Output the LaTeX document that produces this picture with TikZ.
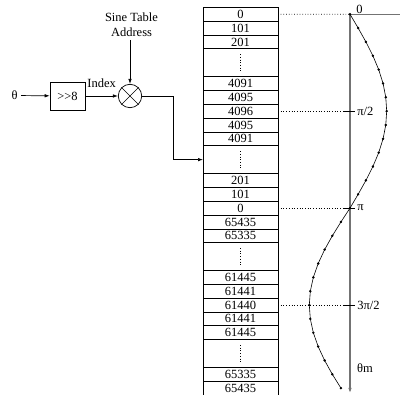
\documentclass[tikz,border=0pt]{standalone}
\usepackage{fontspec}
\setmainfont{Liberation Serif}
\usetikzlibrary{positioning,arrows.meta}

\begin{document}
\begin{tikzpicture}[x=1pt, y=-1pt,
  cell/.style={rectangle, draw, line width=0.7pt, minimum width=75pt, minimum height=13.85pt, inner sep=0pt, outer sep=0pt},
  arrow/.style={-{Latex[length=5pt,width=3.5pt]}, line width=0.7pt},
  axis/.style={draw=black!55, line width=1.1pt},
  tick/.style={line width=0.7pt},
  lbl/.style={right, inner sep=2pt},
  font=\fontsize{12.5}{15}\selectfont,
]
\useasboundingbox (0,0) rectangle (400,395);

% === SINE TABLE ===
\coordinate (r0) at (240.5,7.3);
\foreach \val/\h [count=\i, remember=\i as \j (initially 0)] in
  {0/1, 101/1, 201/1, {}/2, 4091/1, 4095/1, 4096/1, 4095/1, 4091/1, {}/2,
   201/1, 101/1, 0/1, 65435/1, 65335/1, {}/2, 61445/1, 61441/1, 61440/1,
   61441/1, 61445/1, {}/2, 65335/1, 65435/1}
  \node[cell, minimum height=\h*13.85pt, below=0pt of r\j] (r\i) {\val};
\foreach \k in {4,10,16,22}
  \draw[dotted, line width=0.7pt] ([yshift=8.5pt]r\k.center) -- ([yshift=-8.5pt]r\k.center);

% === INDEX PATH ===
\node (theta) at (14.5,95.5) {θ};
\node[draw, line width=0.7pt, minimum width=35pt, minimum height=28pt, inner sep=0pt] (shift) at (67.5,96) {>{}>8};
\node[circle, draw, line width=0.7pt, minimum size=23.4pt, inner sep=0pt] (mult) at (130,96) {};
\draw[line width=0.7pt] (mult.north east) -- (mult.south west) (mult.north west) -- (mult.south east);
\node[align=center] (addr) at (131.5,24.5) {Sine Table\\Address};
\coordinate (elbow) at (173,96);

\draw[arrow] (theta) -- (shift);
\draw[arrow] (shift) -- node[above=8pt, inner sep=0pt, anchor=base] {Index} (mult);
\draw[arrow] (mult.north |- addr.south) -- (mult.north);
\draw[arrow] (mult.east) -| (elbow |- r10.west) -- (r10.west);

% === ONE PERIOD OF THE SINE ===
\coordinate (origin) at (350,14.2);
\coordinate (axright) at (400,14.2);
\coordinate (axend) at (350,393);
\draw[axis] (origin) -- (axright);
\draw[axis, -{Latex[length=5pt,width=3.5pt]}] (origin) -- (axend);
\draw[line width=0.6pt, mark=*, mark size=0.9pt]
  plot[domain=0:27, samples=28] ({350+(sin(90*\x/7)>0 ? 36.7 : 40.7)*sin(90*\x/7)}, {14.2+13.85*\x});

\draw[dotted, line width=0.7pt] (r1.east) -- (origin);
\node[anchor=south, inner sep=0pt] (lzero) at (359.5,13.5) {0};
\foreach \r/\t in {7/{π/2}, 13/π, 19/{3π/2}} {
  \coordinate (t\r) at (r\r.east -| origin);
  \draw[dotted, line width=0.7pt] (r\r.east) -- ([xshift=-6pt]t\r);
  \draw[tick] ([xshift=-6pt]t\r) -- ([xshift=5pt]t\r) node[lbl] (l\r) {\t};
}
\node[anchor=west, inner sep=0pt] (thetam) at (357,368) {θm};
\end{tikzpicture}
\end{document}
